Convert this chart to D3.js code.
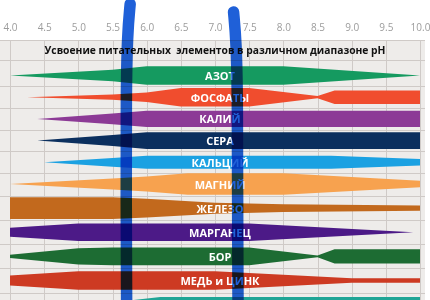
<!DOCTYPE html>
<html><head><meta charset="utf-8">
<script src="https://cdn.jsdelivr.net/npm/d3@7"></script>
<style>
html,body{margin:0;padding:0;background:#fff;}
svg{display:block;}
</style></head>
<body>
<svg id="chart" width="430" height="300"></svg>
<script>
// ---- data ----
const title = "Усвоение питательных  элементов в различном диапазоне pH";
const phTicks = [4.0,4.5,5.0,5.5,6.0,6.5,7.0,7.5,8.0,8.5,9.0,9.5,10.0];
const nutrients = ["АЗОТ","ФОСФАТЫ","КАЛИЙ","СЕРА","КАЛЬЦИЙ","МАГНИЙ","ЖЕЛЕЗО","МАРГАНЕЦ","БОР","МЕДЬ и ЦИНК","МОЛИБДЕН"];
// availability profiles: [pH, relative availability]
const nitrogen   = [[4.0,0],[5.5,5.2],[6.0,8.3],[8.0,8.3],[10.0,0]];
const phosphate  = [[4.25,0],[5.5,2.4],[6.0,4.3],[6.5,8.4],[7.5,8.4],[8.5,1.0],[8.75,6.1],[10.0,6.1]];
const potassium  = [[4.4,0],[5.5,4.8],[6.0,7.3],[10.0,7.3]];
const sulfur     = [[4.4,0],[5.5,5.0],[6.0,7.6],[10.0,7.6]];
const calcium    = [[4.5,0],[5.5,4.0],[6.0,5.9],[8.7,5.9],[10.0,3.0]];
const magnesium  = [[4.0,0],[5.5,5.0],[6.0,6.8],[6.6,9.8],[8.0,9.8],[10.0,3.0]];
const iron       = [[4.0,9.8],[5.5,9.8],[6.0,8.5],[7.0,5.0],[8.0,3.5],[10.0,2.4]];
const manganese  = [[4.0,4.1],[5.0,7.9],[7.5,7.9],[9.9,0]];
const boron      = [[4.0,1.5],[5.0,7.3],[5.5,8.0],[7.5,8.0],[8.5,0.7],[8.75,6.4],[10.0,6.4]];
const copperZinc = [[4.0,4.5],[5.0,8.3],[7.0,8.3],[9.0,2.0],[10.0,2.0]];
const molybdenum = [[5.2,0],[6.2,6.9],[10.0,6.9]];
const profiles = [nitrogen,phosphate,potassium,sulfur,calcium,magnesium,iron,manganese,boron,copperZinc,molybdenum];
const showLabel = [true,true,true,true,true,true,true,true,true,true,false];
// optimum range markers (hand-drawn highlight strokes), pH
const markers = [5.70, 7.33];

// ---- styles ----
const colors = ["#159a60","#f04d2e","#8c3a96","#0b2f5e","#1ba1e2","#f7a24f","#c2691d","#4c1a87","#1d6c33","#cd3a22","#20a596"];

const svg = d3.select("#chart");
const W = 430, H = 300;
const plotTop = 40, plotBottom = 300, plotLeft = 0, plotRight = 425;

const x = d3.scaleLinear().domain([4,10]).range([10,420]);
const y = d3.scaleLinear().domain([0,5,9]).range([75.5,184,280.5]);
const w = d3.scaleLinear().domain([0,10]).range([0,11]);

// background
svg.append("rect").attr("x",plotLeft).attr("y",plotTop)
  .attr("width",plotRight-plotLeft).attr("height",plotBottom-plotTop)
  .attr("fill","#eeecea");

// grid
const grid = svg.append("g").attr("stroke","#cfcac7").attr("stroke-width",1);
grid.selectAll("line.v").data(phTicks).join("line")
  .attr("x1",d=>Math.round(x(d))+0.5).attr("x2",d=>Math.round(x(d))+0.5)
  .attr("y1",plotTop).attr("y2",plotBottom);
const hLines = [plotTop, 60].concat(d3.range(nutrients.length-1).map(i=>(y(i)+y(i+1))/2));
grid.selectAll("line.h").data(hLines).join("line")
  .attr("x1",plotLeft).attr("x2",plotRight)
  .attr("y1",d=>Math.round(d)+0.5).attr("y2",d=>Math.round(d)+0.5);

// axis (top tick labels)
const axis = d3.axisTop(x).tickValues(phTicks).tickFormat(d3.format(".1f")).tickSize(0).tickPadding(3);
const ax = svg.append("g").attr("transform","translate(0,34)").call(axis);
ax.select(".domain").remove();
ax.selectAll("text").attr("fill","#9c9c9c").style("font-family","'Open Sans'").style("font-size","10px");

// title
svg.append("text").attr("x",215).attr("y",50)
  .attr("text-anchor","middle").attr("dominant-baseline","central")
  .style("white-space","pre")
  .style("font-family","'Open Sans'").style("font-weight","bold").style("font-size","10.3px")
  .attr("fill","#111").text(title);

// bands
const bands = svg.append("g");
profiles.forEach((p,i)=>{
  const cy = y(i);
  const area = d3.area().x(d=>x(d[0])).y0(d=>cy-w(d[1])).y1(d=>cy+w(d[1])).curve(d3.curveLinear);
  bands.append("path").datum(p).attr("d",area).attr("fill",colors[i]);
});

// labels
const labelX = (x.range()[0]+x.range()[1])/2 + 5;
svg.append("g").selectAll("text").data(nutrients.filter((d,i)=>showLabel[i])).join("text")
  .attr("x",labelX).attr("y",(d,i)=>y(i))
  .attr("text-anchor","middle").attr("dominant-baseline","central")
  .style("font-family","'Open Sans'").style("font-weight","bold").style("font-size","11px")
  .attr("fill","#fff").text(d=>d);

// highlight strokes
const tops = [4, 12];
const bend = [4, -4];
const line = d3.line().curve(d3.curveBasis);
svg.append("g").selectAll("path").data(markers).join("path")
  .attr("d",(d,i)=>{
    const cx = x(d);
    return line([[cx+bend[i],tops[i]],[cx+bend[i]*0.3,tops[i]+30],[cx,tops[i]+90],[cx,200],[cx+0.5,H+10]]);
  })
  .attr("fill","none").attr("stroke","#1f60d8").attr("stroke-width",11.5)
  .attr("stroke-linecap","round")
  .style("mix-blend-mode","multiply");
</script>
</body></html>
